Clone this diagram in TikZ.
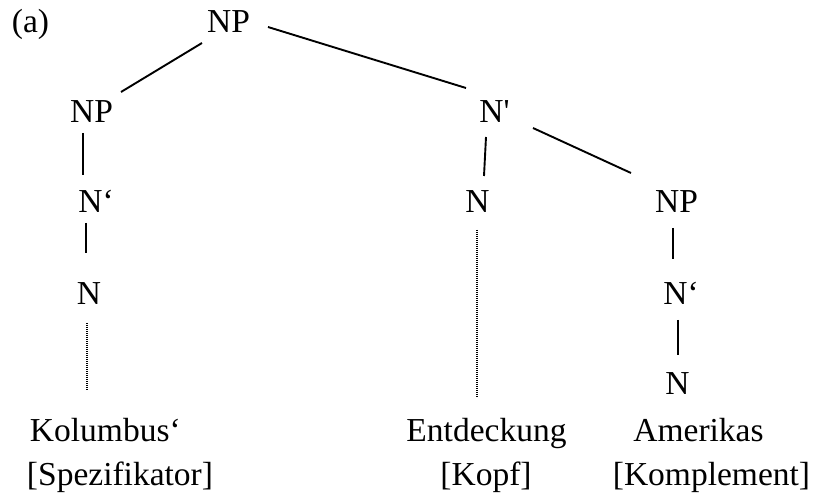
\documentclass[tikz,border=0pt]{standalone}
\usepackage{fontspec}
\setmainfont{Liberation Serif}
\usetikzlibrary{calc}
\begin{document}
\begin{tikzpicture}[x=1pt,y=-1pt,
  lbl/.style={inner sep=0pt,outer sep=0pt,font=\fontsize{33.5}{40}\selectfont},
  edge/.style={line width=1.9pt},
  dotline/.style={line width=1.3pt,dash pattern=on 1pt off 1pt}]
\useasboundingbox (0,0) rectangle (815,497);
% labels
\node[lbl,anchor=base] (a) at (30.5,33) {(a)};
\node[lbl,anchor=base] (top) at (228.5,33) {NP};
\node[lbl,anchor=base] (npl) at (91.5,123) {NP};
\node[lbl,anchor=base] (nbl) at (96,213) {N‘};
\node[lbl,anchor=base] (nl) at (89,305) {N};
\node[lbl,anchor=base west] (kol) at (30,442) {Kolumbus‘};
\node[lbl,anchor=base west] (spez) at (27,485) {[Spezifikator]};
\node[lbl,anchor=base] (nbm) at (494.5,123) {N\textquotesingle};
\node[lbl,anchor=base] (nm) at (477.5,213) {N};
\node[lbl,anchor=base] (npr) at (676.5,213) {NP};
\node[lbl,anchor=base] (nbr) at (681,305) {N‘};
\node[lbl,anchor=base] (nr) at (677.5,395) {N};
\node[lbl,anchor=base] (ent) at (486.5,442) {Entdeckung};
\node[lbl,anchor=base] (kopf) at (486,485) {[Kopf]};
\node[lbl,anchor=base] (ame) at (698.5,442) {Amerikas};
\node[lbl,anchor=base] (komp) at (711.5,485) {[Komplement]};
% connectors
\draw[edge] ($(top.base)+(-26.5,10)$) -- ($(npl.base)+(29.5,-31)$);
\draw[edge] ($(top.base)+(39.5,-6)$) -- ($(nbm.base)+(-28.5,-35)$);
\draw[edge] ($(npl.base)+(-8.5,10)$) -- ($(nbl.base)+(-13,-38)$);
\draw[edge] ($(nbl.base)+(-10,10)$) -- ($(nl.base)+(-3,-52)$);
\draw[dotline] ($(nl.base)+(-2,18)$) -- ($(kol.base west)+(57,-52)$);
\draw[edge] ($(nbm.base)+(-8.5,14)$) -- ($(nm.base)+(6.5,-37)$);
\draw[edge] ($(nbm.base)+(38.5,5)$) -- ($(npr.base)+(-45.5,-40)$);
\draw[dotline] ($(nm.base)+(-0.5,17)$) -- ($(ent.base)+(-9.5,-45)$);
\draw[edge] ($(npr.base)+(-3.5,15)$) -- ($(nbr.base)+(-8,-46)$);
\draw[edge] ($(nbr.base)+(-3,15)$) -- ($(nr.base)+(0.5,-40)$);
\end{tikzpicture}
\end{document}
